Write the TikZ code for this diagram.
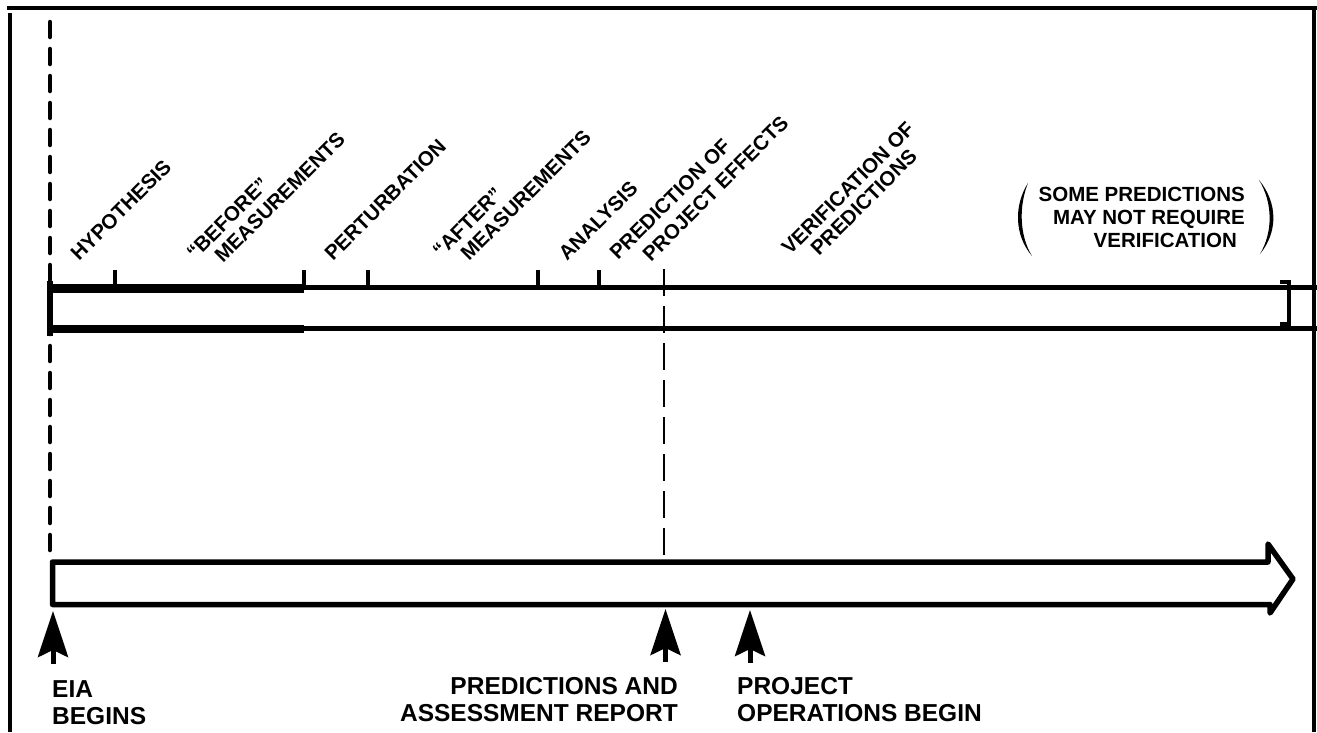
\documentclass[tikz,border=0pt]{standalone}
\usepackage{fontspec}
\setmainfont{Liberation Sans}
\usetikzlibrary{arrows.meta}
\newcommand\rotfont{\fontsize{20.5}{22}\selectfont\bfseries}
\newcommand\bigfont{\fontsize{24.5}{27}\selectfont\bfseries}
\newcommand\notefont{\fontsize{20.5}{23}\selectfont\bfseries}
\begin{document}
\begin{tikzpicture}[x=1pt,y=-1pt,
  frameline/.style={line width=4pt},
  barline/.style={line width=5.5pt},
  thickbar/.style={line width=8.5pt},
  tickline/.style={line width=3.5pt},
  lead/.style={line width=4.5pt, dash pattern=on 15pt off 12pt, line cap=round},
  guide/.style={line width=2.8pt, dash pattern=on 27pt off 10pt},
  rotlabel/.style={rotate=45, anchor=base west, inner sep=0pt, font=\rotfont},
  biglabel/.style={inner sep=0pt, font=\bigfont},
  pointer/.style={line width=5pt, -{Stealth[length=46pt,width=30pt,inset=7pt]}},
]
\useasboundingbox (0,0) rectangle (1317,732);
% frame
\draw[frameline] (7,8) -- (1317,8);
\draw[frameline] (9.5,13) -- (9.5,732);
\draw[frameline] (1314,6) -- (1314,732);

% EIA lead line
\coordinate (leadtop) at (50,22);
\coordinate (leadbot) at (50,556);
\draw[lead] (leadtop) -- (leadbot);

% upper bar
\coordinate (ubTL) at (50,287.5);
\coordinate (ubBL) at (50,328.5);
\coordinate (ubTR) at (1317,287.5);
\coordinate (ubBR) at (1317,328.5);
\draw[barline] (50,281) -- (50,336);
\draw[barline] (ubTL) -- (ubTR);
\draw[barline] (ubBL) -- (ubBR);
\draw[thickbar] (50,288.5) -- (304,288.5);
\draw[thickbar] (50,329) -- (304,329);
\foreach \tx in {115,304,368,538,599}
  \draw[tickline] (\tx,270) -- (\tx,287);
\draw[line width=3.5pt] (1280,282) -- (1289,282) -- (1289,324) -- (1280,324);

% guide line at prediction
\coordinate (gtop) at (664,269);
\coordinate (gbot) at (664,560);
\draw[guide] (gtop) -- (gbot);

% lower open arrow
\draw[barline, line join=round] (52.5,562) -- (1268,562) -- (1268,544) -- (1293,579)
  -- (1270,613) -- (1270,604.5) -- (52.5,604.5) -- cycle;

% rotated labels
\node[rotlabel] (hyp) at (79,262) {HYPOTHESIS};
\node[rotlabel] (before1) at (195,261) {“BEFORE”};
\node[rotlabel] (before2) at (223,264) {MEASUREMENTS};
\node[rotlabel] (pert) at (333,262) {PERTURBATION};
\node[rotlabel] (after1) at (441,259) {“AFTER”};
\node[rotlabel] (after2) at (469,262) {MEASUREMENTS};
\node[rotlabel] (anal) at (567,262) {ANALYSIS};
\node[rotlabel] (pred1) at (618,261) {PREDICTION OF};
\node[rotlabel] (pred2) at (651,263) {PROJECT EFFECTS};
\node[rotlabel] (verif1) at (790,256) {VERIFICATION OF};
\node[rotlabel] (verif2) at (819,257) {PREDICTIONS};

% note with parentheses
\node[inner sep=0pt, font=\notefont, align=right, anchor=north east] (note) at (1245,187)
  {SOME PREDICTIONS\\MAY NOT REQUIRE\\VERIFICATION\hspace*{8pt}};
\fill (1028,183) .. controls (1014,205) and (1014,235) .. (1032,256)
  .. controls (1019,235) and (1019,205) .. (1028,183) -- cycle;
\fill (1259,180) .. controls (1278,203) and (1278,232) .. (1260,254)
  .. controls (1273,232) and (1273,203) .. (1259,180) -- cycle;

% bottom labels
\node[biglabel, align=left, anchor=north west] (eia) at (52,680) {EIA\\BEGINS};
\node[biglabel, align=right, anchor=north east] (rep) at (678,677) {PREDICTIONS AND\\ASSESSMENT REPORT};
\node[biglabel, align=left, anchor=north west] (ops) at (737,677) {PROJECT\\OPERATIONS BEGIN};

% pointers
\coordinate (p1tail) at (53,664);  \coordinate (p1tip) at (53,611);
\coordinate (p2tail) at (665.5,662); \coordinate (p2tip) at (665.5,609);
\coordinate (p3tail) at (750,663); \coordinate (p3tip) at (750,610);
\draw[pointer] (p1tail) -- (p1tip);
\draw[pointer] (p2tail) -- (p2tip);
\draw[pointer] (p3tail) -- (p3tip);
\end{tikzpicture}
\end{document}
